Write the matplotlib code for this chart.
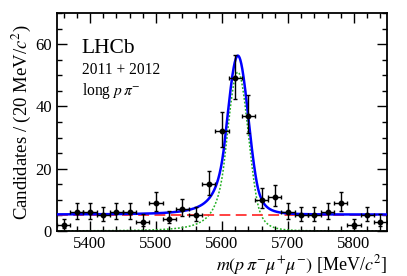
import numpy as np
import matplotlib
matplotlib.use("Agg")
import matplotlib.pyplot as plt
from matplotlib.ticker import MultipleLocator

plt.rcParams['font.family'] = ['Liberation Serif', 'DejaVu Serif']
plt.rcParams['mathtext.fontset'] = 'stix'

# Data (bin centres, counts)
mass = [5360, 5380, 5400, 5420, 5440, 5460, 5480, 5500, 5520, 5540,
        5560, 5580, 5600, 5620, 5640, 5660, 5680, 5700, 5720, 5740,
        5760, 5780, 5800, 5820, 5840]
counts = [2, 6, 6, 5, 6, 6, 3, 9, 4, 7,
          5, 15, 32, 49, 37, 10, 11, 6, 5, 5,
          6, 9, 2, 5, 3]
bin_half = 10

# Fit model parameters
sig_peak = 51.0
sig_mean = 5624.0
sig_sigma = 16.0
alpha_l, n_l = 1.3, 3.0
alpha_r, n_r = 1.8, 4.0
bkg_level = 5.3

xmin, xmax = 5350, 5850
ymin, ymax = 0, 70

def dscb(x):
    t = (np.asarray(x) - sig_mean) / sig_sigma
    out = np.exp(-0.5 * t**2)
    Al = (n_l / alpha_l) ** n_l * np.exp(-0.5 * alpha_l**2)
    Bl = n_l / alpha_l - alpha_l
    Ar = (n_r / alpha_r) ** n_r * np.exp(-0.5 * alpha_r**2)
    Br = n_r / alpha_r - alpha_r
    ml = t < -alpha_l
    mr = t > alpha_r
    out[ml] = Al * (Bl - t[ml]) ** (-n_l)
    out[mr] = Ar * (Br + t[mr]) ** (-n_r)
    return sig_peak * out

n = np.array(counts, dtype=float)
err_lo = n + 0.5 - np.sqrt(n + 0.25)
err_hi = n + 0.5 + np.sqrt(n + 0.25)
yerr = [n - err_lo, err_hi - n]

fig = plt.figure(figsize=(4.07, 2.76), dpi=100)
ax = fig.add_axes([0.140, 0.163, 0.811, 0.790])

xs = np.linspace(xmin, xmax, 1000)
sig = dscb(xs)
ax.plot(xs, sig, color='#22b022', lw=1.1, ls=(0, (1.2, 1.2)), zorder=2)
ax.plot(xs, np.full_like(xs, bkg_level), color='#ff3333', lw=1.3,
        ls=(0, (6, 3)), zorder=2)
ax.plot(xs, sig + bkg_level, color='#0000ff', lw=1.8, zorder=3)

ax.errorbar(mass, counts, xerr=bin_half, yerr=yerr, fmt='o', color='black',
            ms=3.2, lw=1.0, capsize=1.2, capthick=1.0, zorder=4)

ax.set_xlim(xmin, xmax)
ax.set_ylim(ymin, ymax)
ax.xaxis.set_major_locator(MultipleLocator(100))
ax.xaxis.set_minor_locator(MultipleLocator(20))
ax.yaxis.set_major_locator(MultipleLocator(20))
ax.yaxis.set_minor_locator(MultipleLocator(5))
ax.tick_params(which='both', direction='in', top=True, right=True,
               labelsize=12, width=1.0)
ax.tick_params(which='major', length=7)
ax.tick_params(which='minor', length=3.5)
for s in ax.spines.values():
    s.set_linewidth(1.3)

ax.set_ylabel(r'Candidates / (20 MeV/$c^2$)', fontsize=13.5, labelpad=2)
ax.set_xlabel(r'$m(p\,\pi^{-}\mu^{+}\mu^{-})$ [MeV/$c^2$]', fontsize=13,
              loc='right', labelpad=1)

ax.text(0.075, 0.835, 'LHCb', transform=ax.transAxes, fontsize=15.5,
        va='center', ha='left')
ax.text(0.075, 0.74, '2011 + 2012', transform=ax.transAxes, fontsize=11.2,
        va='center', ha='left')
ax.text(0.075, 0.64, r'long $p\,\pi^{-}$', transform=ax.transAxes,
        fontsize=11.2, va='center', ha='left')

fig.savefig('out.png', dpi=100)
